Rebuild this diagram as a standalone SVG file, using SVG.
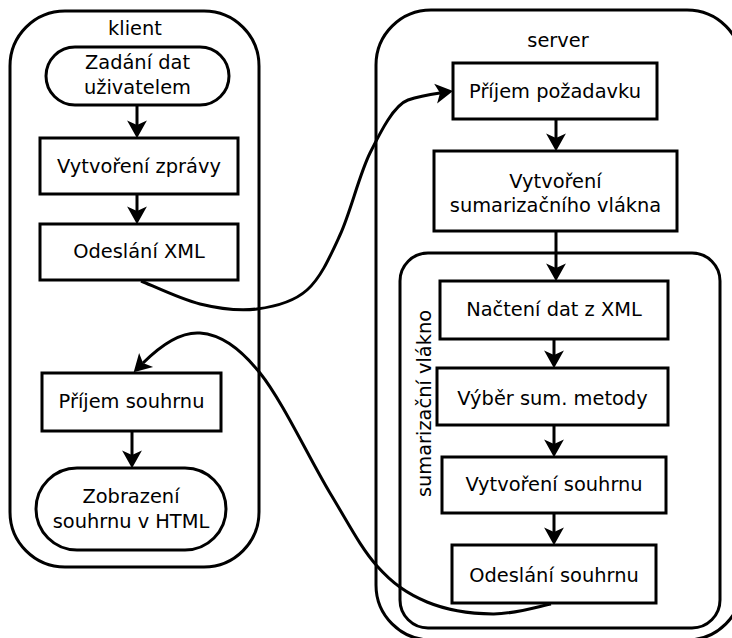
<svg xmlns="http://www.w3.org/2000/svg" width="732" height="638" viewBox="0 0 732 638">
<style>
.shape{fill:#fff;stroke:#000;stroke-width:3}
.cl{fill:none;stroke:#000;stroke-width:3}
.t{font-family:"DejaVu Sans","Noto Sans",sans-serif;font-size:19.4px;fill:#000;text-anchor:middle}
.e{fill:none;stroke:#000;stroke-width:3}
</style>
<defs>
<marker id="ah" markerUnits="userSpaceOnUse" markerWidth="20" markerHeight="22" viewBox="-1 -10 18 20" refX="4" refY="0" orient="auto">
<path d="M0,-9 L16,0 L0,9 L4,0 Z" fill="#000"/>
</marker>
</defs>
<g id="cluster-klient">
<rect class="cl" x="10" y="11" width="249" height="556" rx="55"/>
<text class="t" x="135" y="35">klient</text>
</g>
<g id="cluster-server">
<rect class="cl" x="376" y="10" width="366" height="630" rx="55"/>
<text class="t" x="558" y="47">server</text>
</g>
<g id="cluster-vlakno">
<rect class="cl" x="400" y="253" width="320" height="375" rx="28"/>
<text class="t" transform="translate(431,403.5) rotate(-90)" x="0" y="0">sumarizační vlákno</text>
</g>
<g id="n-zadani">
<rect class="shape" x="46" y="47" width="183" height="58" rx="29"/>
<text class="t" x="137.5" y="69">Zadání dat</text>
<text class="t" x="137.5" y="93.5">uživatelem</text>
</g>
<g id="n-vytvoreni-zpravy">
<rect class="shape" x="40" y="138" width="198" height="56"/>
<text class="t" x="139" y="173">Vytvoření zprávy</text>
</g>
<g id="n-odeslani-xml">
<rect class="shape" x="40" y="224" width="198" height="56"/>
<text class="t" x="139" y="258">Odeslání XML</text>
</g>
<g id="n-prijem-souhrnu">
<rect class="shape" x="42" y="373" width="179" height="58"/>
<text class="t" x="131.5" y="408">Příjem souhrnu</text>
</g>
<g id="n-zobrazeni">
<rect class="shape" x="36" y="468" width="190" height="82" rx="41"/>
<text class="t" x="131" y="503">Zobrazení</text>
<text class="t" x="131" y="528">souhrnu v HTML</text>
</g>
<g id="n-prijem-pozadavku">
<rect class="shape" x="453" y="63" width="204" height="56"/>
<text class="t" x="555" y="98">Příjem požadavku</text>
</g>
<g id="n-vytvoreni-vlakna">
<rect class="shape" x="434" y="151" width="243" height="80"/>
<text class="t" x="555.5" y="188">Vytvoření</text>
<text class="t" x="555.5" y="212">sumarizačního vlákna</text>
</g>
<g id="n-nacteni">
<rect class="shape" x="440" y="281" width="228" height="58"/>
<text class="t" x="554" y="316">Načtení dat z XML</text>
</g>
<g id="n-vyber">
<rect class="shape" x="437" y="368" width="231" height="57"/>
<text class="t" x="552.5" y="405">Výběr sum. metody</text>
</g>
<g id="n-vytvoreni-souhrnu">
<rect class="shape" x="442" y="457" width="224" height="56"/>
<text class="t" x="554" y="491">Vytvoření souhrnu</text>
</g>
<g id="n-odeslani-souhrnu">
<rect class="shape" x="452" y="545" width="204" height="58"/>
<text class="t" x="554" y="582">Odeslání souhrnu</text>
</g>
<g id="connectors">
<line class="e" x1="137" y1="105" x2="137" y2="125" marker-end="url(#ah)"/>
<line class="e" x1="137" y1="194" x2="137" y2="211" marker-end="url(#ah)"/>
<line class="e" x1="132" y1="431" x2="132" y2="455" marker-end="url(#ah)"/>
<line class="e" x1="556" y1="119" x2="556" y2="138" marker-end="url(#ah)"/>
<line class="e" x1="556" y1="231" x2="556" y2="268" marker-end="url(#ah)"/>
<line class="e" x1="554" y1="339" x2="554" y2="355" marker-end="url(#ah)"/>
<line class="e" x1="554" y1="425" x2="554" y2="444" marker-end="url(#ah)"/>
<line class="e" x1="554" y1="513" x2="554" y2="532" marker-end="url(#ah)"/>
<path class="e" d="M141,281 C150.8,284.8 180.7,299.3 200,304 C219.3,308.7 239.2,311.3 257,309 C274.8,306.7 293.2,302.3 307,290 C320.8,277.7 329.5,257.8 340,235 C350.5,212.2 359.2,174.8 370,153 C380.8,131.2 394,105 408,100 C420,96 430,94.5 440,93" marker-end="url(#ah)"/>
<path class="e" d="M551,604 C541.3,605.7 513.7,614.3 493,614 C472.3,613.7 446.3,610 427,602 C407.7,594 393.2,584.2 377,566 C360.8,547.8 349.5,525.2 330,493 C310.5,460.8 281.7,399.7 260,373 C238.3,346.3 219.7,334.5 200,333 C180.3,331.5 160,346 143,363" marker-end="url(#ah)"/>
</g>
</svg>
